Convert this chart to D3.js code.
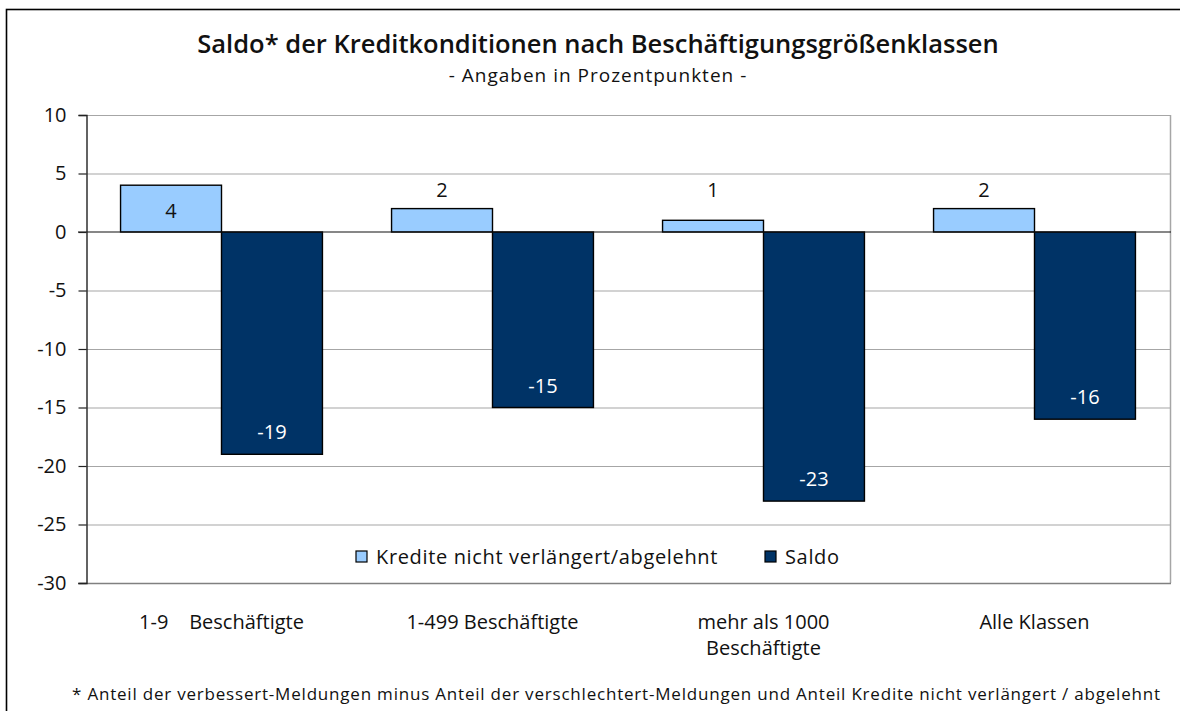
<!DOCTYPE html>
<html>
<head>
<meta charset="utf-8">
<script src="https://cdn.jsdelivr.net/npm/d3@7"></script>
<style>
  body { margin: 0; background: #fff; }
  svg { display: block; font-family: "Open Sans", "Noto Sans", sans-serif; }
  text { white-space: pre; }
</style>
</head>
<body>
<svg id="chart" width="1180" height="711"></svg>
<script>
const categories = ["1-9    Beschäftigte", "1-499 Beschäftigte", "mehr als 1000\nBeschäftigte", "Alle Klassen"];
const seriesNames = ["Kredite nicht verlängert/abgelehnt", "Saldo"];
const kredite = [4, 2, 1, 2];
const saldo = [-19, -15, -23, -16];
const yTicks = [10, 5, 0, -5, -10, -15, -20, -25, -30];

const colors = ["#99ccff", "#003366"];
const margin = {top: 115, bottom: 128, left: 86, right: 10};
const fs = 20;

const svg = d3.select("#chart");
const width = 1180, height = 711;

// outer frame
svg.append("rect")
    .attr("x", 6.5).attr("y", 9.5)
    .attr("width", 1180).attr("height", 711)
    .attr("fill", "none").attr("stroke", "#000").attr("stroke-width", 1.6);

svg.append("text")
    .attr("x", 598).attr("y", 53)
    .attr("text-anchor", "middle")
    .attr("font-size", 25.5).attr("font-weight", 600)
    .attr("fill", "#111")
    .text("Saldo* der Kreditkonditionen nach Beschäftigungsgrößenklassen");

svg.append("text")
    .attr("x", 598).attr("y", 82)
    .attr("text-anchor", "middle")
    .attr("font-size", 19).attr("letter-spacing", 1)
    .attr("fill", "#111")
    .text("- Angaben in Prozentpunkten -");

const y = d3.scaleLinear().domain([-30, 10]).range([height - margin.bottom, margin.top]);
const x0 = d3.scaleBand().domain(categories)
    .range([margin.left, width - margin.right])
    .paddingInner(0.255).paddingOuter(0.1275);
const x1 = d3.scaleBand().domain(seriesNames).range([0, x0.bandwidth()]);

const plot = svg.append("g");

// gridlines
plot.selectAll(".grid")
    .data(yTicks.filter(d => d !== 0 && d !== -30))
    .join("line")
    .attr("class", "grid")
    .attr("x1", margin.left).attr("x2", width - margin.right)
    .attr("y1", d => y(d) + 0.5).attr("y2", d => y(d) + 0.5)
    .attr("stroke", "#a6a6a6").attr("stroke-width", 1.2);

// right border
plot.append("line")
    .attr("x1", width - margin.right + 0.5).attr("x2", width - margin.right + 0.5)
    .attr("y1", y(10)).attr("y2", y(-30))
    .attr("stroke", "#a6a6a6").attr("stroke-width", 1.5);

// bottom line
plot.append("line")
    .attr("x1", margin.left - 8).attr("x2", width - margin.right + 1)
    .attr("y1", y(-30) + 0.5).attr("y2", y(-30) + 0.5)
    .attr("stroke", "#808080").attr("stroke-width", 1.6);

// y axis
const yAxis = d3.axisLeft(y).tickValues(yTicks).tickFormat(d => String(d)).tickSize(8).tickPadding(12);
const ya = svg.append("g")
    .attr("transform", `translate(${margin.left + 0.5},0)`)
    .call(yAxis);
ya.select(".domain").attr("stroke", "#222").attr("stroke-width", 1.4);
ya.selectAll(".tick line").attr("stroke", "#222").attr("stroke-width", 1.2);
ya.selectAll(".tick text").attr("font-size", fs).attr("font-family", "Open Sans").attr("fill", "#111");

const rows = categories.map((c, i) => ({cat: c, values: [
    {key: seriesNames[0], v: kredite[i]},
    {key: seriesNames[1], v: saldo[i]}
]}));

const groups = plot.selectAll(".grp")
    .data(rows)
    .join("g")
    .attr("class", "grp")
    .attr("transform", d => `translate(${x0(d.cat)},0)`);

groups.selectAll("rect")
    .data(d => d.values)
    .join("rect")
    .attr("x", d => x1(d.key))
    .attr("width", x1.bandwidth())
    .attr("y", d => y(Math.max(0, d.v)))
    .attr("height", d => Math.abs(y(d.v) - y(0)))
    .attr("fill", (d, i) => colors[i])
    .attr("stroke", "#000").attr("stroke-width", 1.4);

// zero line
plot.append("line")
    .attr("x1", margin.left - 8).attr("x2", width - margin.right + 1)
    .attr("y1", y(0)).attr("y2", y(0))
    .attr("stroke", "#111").attr("stroke-width", 1.2);

// value labels
groups.selectAll(".val")
    .data(d => d.values)
    .join("text")
    .attr("class", "val")
    .attr("x", d => x1(d.key) + x1.bandwidth() / 2)
    .attr("y", d => {
        if (d.v < 0) return y(d.v) - 22;
        if (d.v >= 3) return (y(d.v) + y(0)) / 2 + 2;
        return y(3.6);
    })
    .attr("dy", "0.35em")
    .attr("text-anchor", "middle")
    .attr("font-size", fs)
    .attr("fill", d => d.v < 0 ? "#fff" : "#111")
    .text(d => d.v);

// category labels
svg.selectAll(".cat")
    .data(categories)
    .join("text")
    .attr("class", "cat")
    .attr("text-anchor", "middle")
    .attr("font-size", fs)
    .attr("fill", "#111")
    .attr("x", d => x0(d) + x0.bandwidth() / 2)
    .attr("y", 629)
    .each(function(d) {
        d3.select(this).selectAll("tspan")
            .data(d.split("\n"))
            .join("tspan")
            .attr("x", x0(d) + x0.bandwidth() / 2)
            .attr("dy", (t, i) => i === 0 ? 0 : 26)
            .text(t => t);
    });

// legend
const legendX = [356, 765];
const legend = svg.selectAll(".leg")
    .data(seriesNames)
    .join("g")
    .attr("class", "leg")
    .attr("transform", (d, i) => `translate(${legendX[i]},557)`);
legend.append("rect")
    .attr("x", 0).attr("y", -6)
    .attr("width", 11).attr("height", 11)
    .attr("fill", (d, i) => colors[i])
    .attr("stroke", "#000").attr("stroke-width", 1.2);
legend.append("text")
    .attr("x", 20).attr("y", 0)
    .attr("dy", "0.35em")
    .attr("font-size", fs)
    .attr("letter-spacing", 0.65)
    .attr("fill", "#111")
    .text(d => d);

// footnote
svg.append("text")
    .attr("x", 72).attr("y", 700)
    .attr("font-size", 17)
    .attr("textLength", 1088).attr("lengthAdjust", "spacing")
    .attr("fill", "#111")
    .text("* Anteil der verbessert-Meldungen minus Anteil der verschlechtert-Meldungen und Anteil Kredite nicht verlängert / abgelehnt");
</script>
</body>
</html>
